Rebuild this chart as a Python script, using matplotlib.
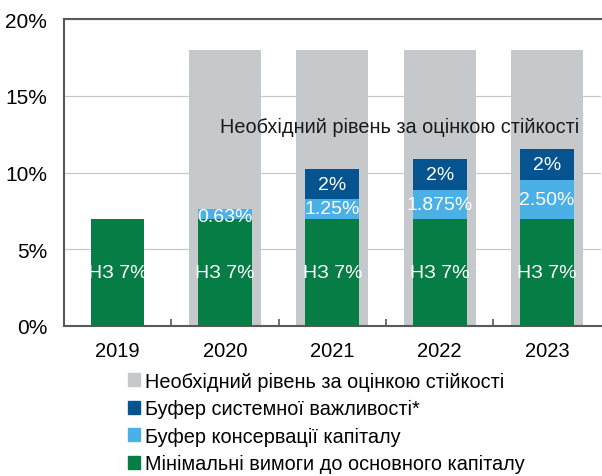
import numpy as np
import matplotlib.pyplot as plt
from matplotlib.patches import Patch

plt.rcParams['font.family'] = ['Liberation Sans', 'DejaVu Sans']

# data
years = ['2019', '2020', '2021', '2022', '2023']
required = [0, 18, 18, 18, 18]
min_capital = [7, 7, 7, 7, 7]
conservation = [0, 0.63, 1.25, 1.875, 2.5]
systemic = [0, 0, 2, 2, 2]
min_labels = ['НЗ 7%'] * 5
cons_labels = ['', '0.63%', '1.25%', '1.875%', '2.50%']
sys_labels = ['', '', '2%', '2%', '2%']

c_grey = '#C5C9CC'
c_dark = '#05548F'
c_light = '#4AB0E6'
c_green = '#077D46'

fig = plt.figure(figsize=(6.02, 4.77), dpi=100)
ax = fig.add_axes([0.106, 0.3145, 0.892, 0.6435])

x = np.arange(len(years))
min_capital = np.array(min_capital)
conservation = np.array(conservation)
systemic = np.array(systemic)

ax.bar(x, required, width=0.67, color=c_grey, zorder=2)
ax.bar(x, min_capital, width=0.5, color=c_green, zorder=3)
ax.bar(x, conservation, width=0.5, bottom=min_capital, color=c_light, zorder=3)
ax.bar(x, systemic, width=0.5, bottom=min_capital + conservation, color=c_dark, zorder=3)

# bar labels
for i in range(len(years)):
    ax.text(x[i], min_capital[i] / 2, min_labels[i], ha='center', va='center',
            color='white', fontsize=14, zorder=4)
    if cons_labels[i]:
        yc = min_capital[i] + conservation[i] / 2
        if conservation[i] < 1:
            yc = min_capital[i] + 0.15
        ax.text(x[i], yc, cons_labels[i], ha='center', va='center',
                color='white', fontsize=14, zorder=4)
    if sys_labels[i]:
        yc = min_capital[i] + conservation[i] + systemic[i] / 2
        ax.text(x[i], yc, sys_labels[i], ha='center', va='center',
                color='white', fontsize=14, zorder=4)

ax.text(2.63, 13.0, 'Необхідний рівень за оцінкою стійкості', ha='center',
        va='center', fontsize=14.3, color='#1a1a1a', zorder=4)

ax.set_xlim(-0.5, 4.5)
ax.set_ylim(0, 20)
ax.set_yticks([0, 5, 10, 15, 20])
ax.set_yticklabels(['0%', '5%', '10%', '15%', '20%'])
ax.yaxis.grid(True, color='#c8c8c8', linewidth=0.9, zorder=1)
ax.set_axisbelow(True)
ax.tick_params(axis='y', length=0, pad=12, labelsize=15)
ax.set_xticks(x)
ax.set_xticklabels(years)
ax.tick_params(axis='x', length=0, pad=11, labelsize=14.5)
ax.set_xticks(np.arange(0.5, 4.5, 1), minor=True)
ax.tick_params(axis='x', which='minor', direction='in', length=5, width=1.2, color='#595959')

for s in ['left', 'top', 'bottom']:
    ax.spines[s].set_color('#595959')
    ax.spines[s].set_linewidth(1.5)
ax.spines['right'].set_visible(False)

handles = [Patch(color=c_grey), Patch(color=c_dark), Patch(color=c_light), Patch(color=c_green)]
labels = ['Необхідний рівень за оцінкою стійкості', 'Буфер системної важливості*',
          'Буфер консервації капіталу', 'Мінімальні вимоги до основного капіталу']
fig.legend(handles, labels, loc='upper left', bbox_to_anchor=(0.213, 0.219),
           frameon=False, fontsize=14.3, handlelength=0.6, handleheight=0.6,
           handletextpad=0.25, labelspacing=0.43, borderaxespad=0, borderpad=0)

fig.savefig('out.png', dpi=100)
